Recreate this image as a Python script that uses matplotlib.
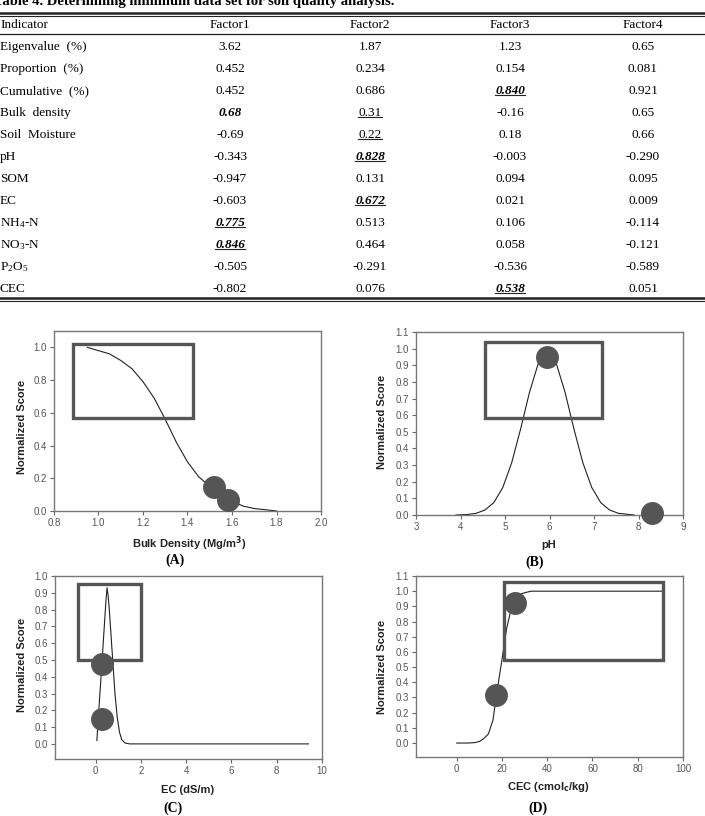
import matplotlib
matplotlib.use("Agg")
import matplotlib.pyplot as plt
from matplotlib.lines import Line2D
from matplotlib.patches import Rectangle

# ---- table data ----
title = "Table 4. Determining minimum data set for soil quality analysis."
header = ["Indicator", "Factor1", "Factor2", "Factor3", "Factor4"]
indicators = ["Eigenvalue  (%)", "Proportion  (%)", "Cumulative  (%)", "Bulk  density", "Soil  Moisture",
              "pH", "SOM", "EC", "NH$_4$-N", "NO$_3$-N", "P$_2$O$_5$", "CEC"]
factor1 = ["3.62", "0.452", "0.452", "0.68", "-0.69", "-0.343", "-0.947", "-0.603", "0.775", "0.846", "-0.505", "-0.802"]
factor2 = ["1.87", "0.234", "0.686", "0.31", "0.22", "0.828", "0.131", "0.672", "0.513", "0.464", "-0.291", "0.076"]
factor3 = ["1.23", "0.154", "0.840", "-0.16", "0.18", "-0.003", "0.094", "0.021", "0.106", "0.058", "-0.536", "0.538"]
factor4 = ["0.65", "0.081", "0.921", "0.65", "0.66", "-0.290", "0.095", "0.009", "-0.114", "-0.121", "-0.589", "0.051"]
# (row, factor column) -> b = bold, i = italic, u = underline
emphasis = {(3, 0): "bi", (3, 1): "u", (4, 1): "u", (2, 2): "biu", (5, 1): "biu",
            (7, 1): "biu", (8, 0): "biu", (9, 0): "biu", (11, 2): "biu"}

# ---- scoring curves ----
bd_x = [0.95, 1.00, 1.05, 1.10, 1.15, 1.20, 1.25, 1.30, 1.35, 1.40, 1.45, 1.50, 1.55, 1.60, 1.65, 1.70, 1.75, 1.80]
bd_y = [1.00, 0.98, 0.96, 0.92, 0.87, 0.79, 0.69, 0.56, 0.42, 0.30, 0.21, 0.15, 0.10, 0.06, 0.03, 0.015, 0.008, 0.0]
bd_pts_x = [1.52, 1.58]
bd_pts_y = [0.145, 0.07]

ph_x = [3.9, 4.15, 4.35, 4.55, 4.75, 4.95, 5.15, 5.35, 5.55, 5.75, 5.85, 5.95,
        6.05, 6.15, 6.35, 6.55, 6.75, 6.95, 7.15, 7.35, 7.55, 7.9]
ph_y = [0.0, 0.003, 0.010, 0.030, 0.075, 0.165, 0.314, 0.516, 0.737, 0.913, 0.963, 0.98,
        0.963, 0.913, 0.737, 0.516, 0.314, 0.165, 0.075, 0.030, 0.010, 0.0]
ph_pts_x = [5.95, 8.3]
ph_pts_y = [0.95, 0.015]

ec_x = [0.05, 0.15, 0.25, 0.35, 0.45, 0.50, 0.55, 0.60, 0.65, 0.75, 0.85, 0.95, 1.05, 1.15, 1.3, 1.5, 2.0, 4.0, 6.0, 8.0, 9.4]
ec_y = [0.02, 0.23, 0.43, 0.64, 0.85, 0.93, 0.88, 0.80, 0.70, 0.50, 0.30, 0.16, 0.07, 0.025, 0.005, 0.0, 0.0, 0.0, 0.0, 0.0, 0.0]
ec_pts_x = [0.27, 0.27]
ec_pts_y = [0.476, 0.15]

cec_x = [0, 5, 8, 10, 12, 14, 16, 18, 20, 22, 24, 26, 28, 30, 33, 40, 60, 90.5]
cec_y = [0.0, 0.0, 0.003, 0.01, 0.03, 0.06, 0.15, 0.36, 0.55, 0.75, 0.88, 0.95, 0.98, 0.99, 1.0, 1.0, 1.0, 1.0]
cec_pts_x = [17.3, 25.7]
cec_pts_y = [0.315, 0.92]

W, H = 705, 816
fig = plt.figure(figsize=(W / 100, H / 100), dpi=100)
plt.rcParams['mathtext.fontset'] = 'custom'
plt.rcParams['mathtext.rm'] = 'Liberation Serif'
plt.rcParams['mathtext.it'] = 'Liberation Serif:italic'
plt.rcParams['mathtext.bf'] = 'Liberation Serif:bold'


def fx(x):
    return x / W


def fy(y):
    return 1 - y / H


serif = "Liberation Serif"
sans = "Liberation Sans"
tfs = 9.5

# title (cut off at the top, like the scanned page)
fig.text(fx(-6), fy(1), title, family=serif, fontweight="bold", fontsize=10.5, va="center", ha="left")


def hline(y, lw):
    fig.add_artist(Line2D([0, 1], [fy(y), fy(y)], transform=fig.transFigure, color="#222", lw=lw))


hline(13, 1.8)
hline(16, 0.8)
hline(34, 0.9)
hline(298, 1.8)
hline(301, 0.8)

col_x = [0, 230, 370, 510, 643]
fig.text(fx(col_x[0]), fy(25), header[0], family=serif, fontsize=tfs, va="center", ha="left")
for c in range(1, 5):
    fig.text(fx(col_x[c]), fy(25), header[c], family=serif, fontsize=tfs, va="center", ha="center")

underlined = []
factors = [factor1, factor2, factor3, factor4]
for i, name in enumerate(indicators):
    y = 47 + 22 * i
    fig.text(fx(col_x[0]), fy(y), name, family=serif, fontsize=tfs, va="center", ha="left")
    for c in range(4):
        st = emphasis.get((i, c), "")
        t = fig.text(fx(col_x[c + 1]), fy(y), factors[c][i], family=serif, fontsize=tfs,
                     va="center", ha="center",
                     fontweight="bold" if "b" in st else "normal",
                     fontstyle="italic" if "i" in st else "normal")
        if "u" in st:
            underlined.append(t)

renderer = fig.canvas.get_renderer()
for t in underlined:
    bb = t.get_window_extent(renderer)
    yy = (bb.y0 + 2) / H
    fig.add_artist(Line2D([bb.x0 / W, bb.x1 / W], [yy, yy], transform=fig.transFigure, color="#222", lw=0.8))


# ---- panels ----
def panel(box, xlim, ylim, xticks, yticks, xfmt):
    l, r, t, b = box
    ax = fig.add_axes([fx(l), fy(b), (r - l) / W, (b - t) / H])
    ax.set_xlim(*xlim)
    ax.set_ylim(*ylim)
    ax.set_xticks(xticks)
    ax.set_yticks(yticks)
    ax.set_xticklabels([xfmt.format(v) for v in xticks])
    ax.set_yticklabels(["{:.1f}".format(v) for v in yticks])
    for s in ax.spines.values():
        s.set_color("#777")
        s.set_linewidth(1.0)
    ax.tick_params(direction="out", length=3, width=0.8, color="#666", labelcolor="#555",
                   labelsize=7, pad=2)
    for lab in ax.get_xticklabels() + ax.get_yticklabels():
        lab.set_family(sans)
    return ax


def draw(ax, x, y, px, py, rect):
    ax.plot(x, y, color="#222", lw=0.8)
    x0, x1, y0, y1 = rect
    ax.add_patch(Rectangle((x0, y0), x1 - x0, y1 - y0, fill=False, edgecolor="#555", lw=2.4, zorder=3))
    ax.plot(px, py, "o", ms=15.5, color="#555", mec="#555", zorder=4, clip_on=False)


ax_a = panel((54, 321, 331, 511), (0.8, 2.0), (0, 1.1), [0.8, 1.0, 1.2, 1.4, 1.6, 1.8, 2.0],
             [0, 0.2, 0.4, 0.6, 0.8, 1.0], "{:.1f}")
draw(ax_a, bd_x, bd_y, bd_pts_x, bd_pts_y, (0.885, 1.425, 0.567, 1.02))

ax_b = panel((416, 683, 332, 515), (3, 9), (0, 1.1), [3, 4, 5, 6, 7, 8, 9],
             [0, 0.1, 0.2, 0.3, 0.4, 0.5, 0.6, 0.7, 0.8, 0.9, 1.0, 1.1], "{:d}")
draw(ax_b, ph_x, ph_y, ph_pts_x, ph_pts_y, (4.55, 7.18, 0.583, 1.04))

ax_c = panel((55, 322, 576, 759), (-1.8, 10), (-0.09, 1.0), [0, 2, 4, 6, 8, 10],
             [0, 0.1, 0.2, 0.3, 0.4, 0.5, 0.6, 0.7, 0.8, 0.9, 1.0], "{:d}")
draw(ax_c, ec_x, ec_y, ec_pts_x, ec_pts_y, (-0.8, 2.0, 0.5, 0.952))

ax_d = panel((416, 683, 576, 757), (-18, 100), (-0.092, 1.1), [0, 20, 40, 60, 80, 100],
             [0, 0.1, 0.2, 0.3, 0.4, 0.5, 0.6, 0.7, 0.8, 0.9, 1.0, 1.1], "{:d}")
draw(ax_d, cec_x, cec_y, cec_pts_x, cec_pts_y, (20.8, 91, 0.55, 1.06))

lab_kw = dict(family=sans, fontweight="bold", fontsize=8, color="#222", math_fontfamily="dejavusans")
for x, y in [(22, 427), (382, 422), (22, 665), (382, 667)]:
    fig.text(fx(x), fy(y), "Normalized Score", rotation=90, ha="center", va="center", **lab_kw)

fig.text(fx(189), fy(544), r"Bulk Density (Mg/m$^{\mathbf{3}}$)", ha="center", va="center", **lab_kw)
fig.text(fx(549), fy(545), "pH", ha="center", va="center", **lab_kw)
fig.text(fx(188), fy(790), "EC (dS/m)", ha="center", va="center", **lab_kw)
fig.text(fx(548), fy(787), r"CEC (cmol$_{\mathbf{c}}$/kg)", ha="center", va="center", **lab_kw)

for (x, y), s in zip([(175, 560), (535, 562), (173, 808), (538, 808)], ["(A)", "(B)", "(C)", "(D)"]):
    fig.text(fx(x), fy(y), s, family=serif, fontweight="bold", fontsize=10, ha="center", va="center")

fig.savefig("out.png", dpi=100)
